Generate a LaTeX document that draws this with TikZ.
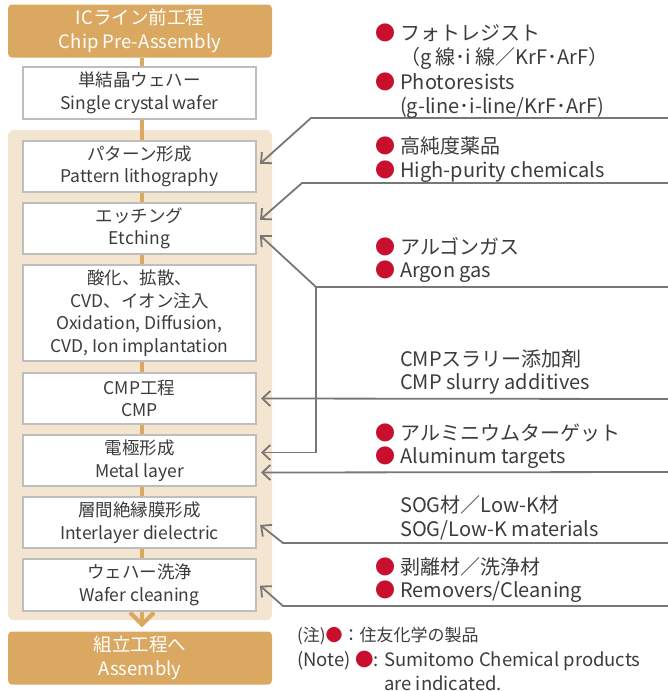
\documentclass[tikz,border=0pt]{standalone}
\usepackage{fontspec}
\setmainfont{Noto Sans CJK JP}
\usetikzlibrary{positioning,arrows.meta}
\definecolor{stageorange}{HTML}{DAA860}
\definecolor{stagebeige}{HTML}{F3E5CF}
\definecolor{boxgray}{HTML}{BEBEBE}
\definecolor{wiregray}{HTML}{777777}
\definecolor{dotred}{HTML}{C8102E}
\definecolor{inkgray}{HTML}{3C3C3C}
\newcommand{\rdot}{\textcolor{dotred}{●}}
\newcommand{\bul}{\llap{\rdot\hspace{5pt}}}

\begin{document}
\begin{tikzpicture}[x=1pt, y=-1pt, >=Stealth, node distance=9pt,
  stagebox/.style={fill=stageorange, rounded corners=4pt, minimum width=264pt, minimum height=53pt,
    text=white, align=center, font=\fontsize{18.5}{23.5}\selectfont, inner sep=0pt},
  procbox/.style={draw=boxgray, line width=2pt, fill=white, minimum width=233pt, minimum height=51pt,
    align=center, text=inkgray, font=\fontsize{17.5}{22.5}\selectfont, inner sep=0pt},
  flowline/.style={draw=stageorange, line width=4pt},
  supply/.style={draw=wiregray, line width=1.8pt, -{Straight Barb[length=8pt,width=15pt]}, shorten >=4pt},
  product/.style={anchor=west, align=left, text=inkgray, font=\fontsize{20}{23.5}\selectfont, inner sep=0pt},
  note/.style={anchor=west, text=inkgray, font=\fontsize{17}{22}\selectfont, inner sep=0pt},
  ]
  \useasboundingbox (0,0) rectangle (668,691);

  % process column
  \node[stagebox] (chip) at (140,31) {ICライン前工程\\Chip Pre-Assembly};
  \node[stagebox] (asm) at (140,658) {組立工程へ\\Assembly};
  \fill[stagebeige, rounded corners=6pt] (8,130) rectangle (272,620);
  \draw[flowline, -{Straight Barb[length=12pt,width=24pt]}, shorten >=4pt]
    ([xshift=2pt]chip.south) -- ([xshift=2pt]asm.north);

  \node[procbox, minimum height=52pt] (wafer) at (139.5,93) {単結晶ウェハー\\Single crystal wafer};
  \node[procbox] (pat) at (139.5,166.5) {パターン形成\\Pattern lithography};
  \node[procbox, below=of pat] (etch) {エッチング\\Etching};
  \node[procbox, below=of etch, minimum height=96pt] (oxid)
    {酸化、拡散、\\CVD、イオン注入\\Oxidation, Diffusion,\\CVD, Ion implantation};
  \node[procbox, below=10pt of oxid] (cmp) {CMP工程\\CMP};
  \node[procbox, below=of cmp] (metal) {電極形成\\Metal layer};
  \node[procbox, below=of metal] (ild) {層間絶縁膜形成\\Interlayer dielectric};
  \node[procbox, below=of ild, minimum height=52pt] (clean) {ウェハー洗浄\\Wafer cleaning};

  % materials
  \coordinate (photo in) at (668,118);
  \coordinate (chem in) at (668,183);
  \coordinate (argon in) at (668,287);
  \coordinate (slurry in) at (668,399);
  \coordinate (target in) at (668,472);
  \coordinate (sog in) at (668,543);
  \coordinate (remover in) at (668,606);

  \draw[supply] (photo in) -- (311,118) -- (pat.east);
  \draw[supply] (chem in) -- (302,183) -- ([yshift=6pt]etch.east);
  \draw[supply] (argon in) -- (316,287) coordinate (argon fork) -- ([yshift=-4pt]etch.east);
  \draw[supply] (argon fork) |- ([yshift=8pt]metal.east);
  \draw[supply] (slurry in) -- (cmp.east);
  \draw[supply] (target in) -- ([yshift=-12pt]metal.east);
  \draw[supply] (sog in) -- (283,543) -- (ild.east);
  \draw[supply] (remover in) -- (283,606) -- ([yshift=2pt]clean.east);

  \node[product] (photo jp) at (400,46.5) {\bul フォトレジスト\\（g 線･i 線／KrF･ArF）};
  \node[product] (photo en) at (400,95.5) {\bul Photoresists\\ (g-line･i-line/KrF･ArF)};
  \node[product] (chem) at (400,159.5) {\bul 高純度薬品\\\bul High-purity chemicals};
  \node[product] (argon) at (400,260) {\bul アルゴンガス\\\bul Argon gas};
  \node[product] (slurry) at (400,372) {CMPスラリー添加剤\\CMP slurry additives};
  \node[product] (target) at (400,446) {\bul アルミニウムターゲット\\\bul Aluminum targets};
  \node[product] (sog) at (400,518) {SOG材／Low-K材\\SOG/Low-K materials};
  \node[product] (remover) at (400,580) {\bul 剥離材／洗浄材\\\bul Removers/Cleaning};

  % note
  \node[note] (note jp) at (297,636) {(注)\rdot：住友化学の製品};
  \node[note, font=\fontsize{18.5}{22}\selectfont] (note en) at (297,661)
    {(Note) \rdot: Sumitomo Chemical products};
  \node[note, font=\fontsize{18.5}{22}\selectfont] (note en2) at (384,683) {are indicated.};
\end{tikzpicture}
\end{document}
